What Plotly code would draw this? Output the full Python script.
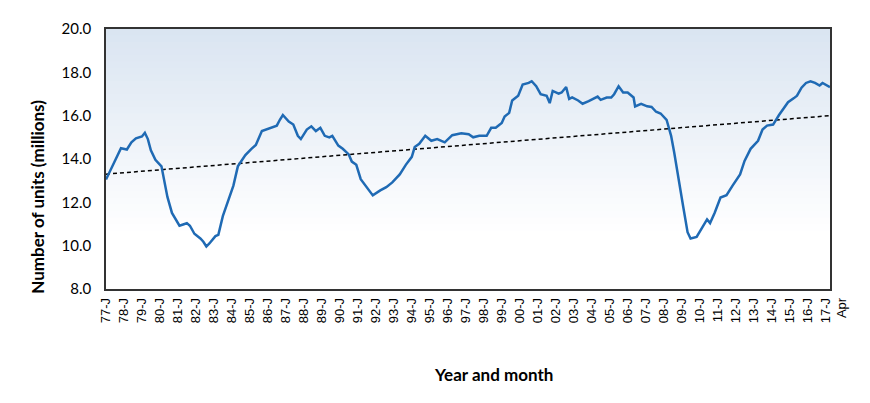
import plotly.graph_objects as go

# monthly sales (millions of units)
months = [
    "1977-01", "1977-07", "1977-11", "1978-03", "1978-06", "1978-09", "1979-01", "1979-03",
    "1979-05", "1979-07", "1979-10", "1980-02", "1980-04", "1980-06", "1980-09", "1981-02",
    "1981-05", "1981-07", "1981-09", "1981-12", "1982-04", "1982-06", "1982-08", "1982-10",
    "1983-02", "1983-04", "1983-07", "1983-10", "1984-02", "1984-05", "1984-10", "1985-02",
    "1985-05", "1985-09", "1985-12", "1986-03", "1986-07", "1986-09", "1986-11", "1987-03",
    "1987-06", "1987-09", "1987-11", "1988-03", "1988-06", "1988-09", "1988-12", "1989-03",
    "1989-06", "1989-08", "1989-12", "1990-03", "1990-07", "1990-09", "1990-12", "1991-03",
    "1991-07", "1991-11", "1992-04", "1992-08", "1992-12", "1993-05", "1993-09", "1994-01",
    "1994-03", "1994-06", "1994-10", "1995-02", "1995-06", "1995-11", "1996-04", "1996-10",
    "1997-03", "1997-06", "1997-10", "1998-03", "1998-06", "1998-09", "1999-01", "1999-03",
    "1999-06", "1999-08", "1999-12", "2000-03", "2000-07", "2000-09", "2000-12", "2001-03",
    "2001-07", "2001-09", "2001-11", "2002-03", "2002-05", "2002-08", "2002-10", "2002-12",
    "2003-04", "2003-07", "2003-11", "2004-02", "2004-05", "2004-07", "2004-11", "2005-02",
    "2005-04", "2005-07", "2005-10", "2006-01", "2006-05", "2006-06", "2006-10", "2007-02",
    "2007-05", "2007-08", "2007-11", "2008-03", "2008-06", "2008-08", "2008-11", "2009-02",
    "2009-05", "2009-07", "2009-11", "2010-02", "2010-06", "2010-08", "2010-11", "2011-03",
    "2011-07", "2011-11", "2012-04", "2012-07", "2012-11", "2013-04", "2013-07", "2013-10",
    "2014-02", "2014-06", "2014-12", "2015-04", "2015-06", "2015-09", "2015-12", "2016-03",
    "2016-06", "2016-09", "2016-11", "2017-04",
]
units = [
    13.05, 13.96, 14.50, 14.44, 14.77, 14.95, 15.04, 15.21,
    14.92, 14.40, 13.96, 13.66, 12.99, 12.25, 11.51, 10.92,
    10.99, 11.04, 10.92, 10.55, 10.33, 10.18, 9.96, 10.10,
    10.44, 10.50, 11.36, 11.96, 12.77, 13.66, 14.18, 14.47,
    14.65, 15.29, 15.36, 15.44, 15.54, 15.81, 16.03, 15.73,
    15.59, 15.07, 14.92, 15.36, 15.51, 15.29, 15.44, 15.07,
    15.00, 15.07, 14.62, 14.47, 14.21, 13.88, 13.73, 13.07,
    12.70, 12.32, 12.55, 12.70, 12.92, 13.29, 13.73, 14.10,
    14.55, 14.70, 15.07, 14.84, 14.92, 14.77, 15.10, 15.19,
    15.14, 15.00, 15.07, 15.07, 15.44, 15.44, 15.66, 15.96,
    16.13, 16.70, 16.92, 17.44, 17.51, 17.59, 17.36, 16.99,
    16.92, 16.58, 17.14, 17.02, 17.07, 17.32, 16.77, 16.84,
    16.70, 16.55, 16.67, 16.77, 16.88, 16.73, 16.84, 16.84,
    16.99, 17.36, 17.07, 17.07, 16.84, 16.43, 16.55, 16.43,
    16.40, 16.18, 16.10, 15.81, 15.07, 14.32, 12.99, 11.81,
    10.62, 10.33, 10.40, 10.77, 11.21, 11.04, 11.51, 12.22,
    12.33, 12.77, 13.29, 13.91, 14.47, 14.84, 15.36, 15.54,
    15.59, 16.03, 16.62, 16.81, 16.92, 17.29, 17.51, 17.59,
    17.51, 17.39, 17.51, 17.32,
]

# linear trend, end points
trend_months = ["1977-01", "2017-04"]
trend_units = [13.3, 16.0]

tick_dates = [f"{y}-01-01" for y in range(1977, 2018)]
tick_text = [f"{str(y)[2:]}-J" for y in range(1977, 2018)]

fig = go.Figure()

fig.add_trace(go.Scatter(
    x=trend_months, y=trend_units, mode="lines",
    line=dict(color="black", width=1.5, dash="4px,3px"),
    hoverinfo="skip",
))
fig.add_trace(go.Scatter(
    x=months, y=units, mode="lines",
    line=dict(color="#1f6ab4", width=2.5),
))

# pale blue to white gradient behind the plot
top = (217, 228, 241)
n = 40
for i in range(n):
    y0 = i / n
    f = max(0.0, (y0 - 0.2) / 0.8)
    c = tuple(round(255 + (t - 255) * f) for t in top)
    fig.add_shape(type="rect", xref="paper", yref="paper",
                  x0=0, x1=1, y0=y0, y1=(i + 1) / n + 0.002,
                  fillcolor=f"rgb{c}", line_width=0, layer="below")

font = "Lato, 'Open Sans', sans-serif"

fig.add_annotation(text="<b>Number of units (millions)</b>", textangle=-90,
                   xref="paper", yref="paper", x=-0.095, y=0.356,
                   xanchor="center", yanchor="middle",
                   showarrow=False, font=dict(size=17, color="black", family=font))
fig.add_annotation(text="<b>Year and month</b>",
                   xref="paper", yref="paper", x=0.535, y=-0.328,
                   xanchor="center", yanchor="middle",
                   showarrow=False, font=dict(size=17, color="black", family=font))
fig.add_annotation(text="Apr", textangle=-90,
                   xref="paper", yref="paper", x=1.015, y=-0.022,
                   xanchor="center", yanchor="top",
                   showarrow=False,
                   font=dict(size=13, color="black", family="'Liberation Sans', Arial"))

# page body adds an 8px offset, so the figure is a bit smaller than the window
fig.update_layout(
    width=862, height=395,
    margin=dict(l=98, r=40, t=11, b=114),
    paper_bgcolor="white",
    plot_bgcolor="rgba(0,0,0,0)",
    showlegend=False,
    font=dict(family=font, color="black"),
)
fig.update_xaxes(
    type="date", range=["1977-01-01", "2017-04-01"],
    tickvals=tick_dates, ticktext=tick_text, tickangle=-90,
    tickfont=dict(size=13, family="'Liberation Sans', Arial"),
    showgrid=False, zeroline=False, ticklabelstandoff=2,
    showline=True, mirror=True, linecolor="#333333", linewidth=1.5,
)
fig.update_yaxes(
    range=[8, 20], dtick=2, tickformat=".1f",
    tickfont=dict(size=15), showgrid=False, zeroline=False,
    showline=True, mirror=True, linecolor="#333333", linewidth=1.5,
    ticks="", ticklabelstandoff=10,
)

fig.write_html("out.html")
